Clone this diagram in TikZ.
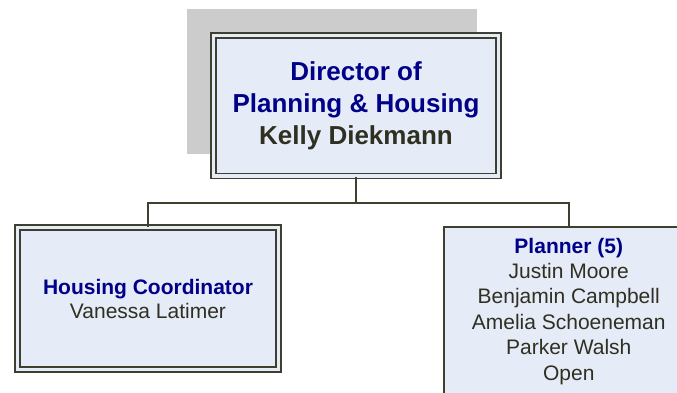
\documentclass[tikz,border=0pt]{standalone}
\usepackage{fontspec}
\setmainfont{Liberation Sans}
\definecolor{edge}{HTML}{3F3F2F}
\definecolor{boxfill}{HTML}{E6ECF7}
\definecolor{shadowgray}{HTML}{CCCCCC}
\definecolor{titleblue}{HTML}{000088}
\definecolor{nametext}{HTML}{2F2F22}
\tikzset{
  dblbox/.style={draw=edge, line width=1.7pt, double=boxfill, double distance=3.3pt, fill=boxfill, inner sep=0pt, align=center},
  sglbox/.style={draw=edge, line width=1.5pt, fill=boxfill, inner sep=0pt, align=center},
  conn/.style={draw=edge, line width=1.5pt},
  ttl/.style={text=titleblue},
}
\begin{document}
\begin{tikzpicture}[x=1pt,y=-1pt]
\useasboundingbox (0,0) rectangle (677,393);
\clip (0,0) rectangle (677,393);
\fill[shadowgray] (187,9) rectangle (477,154);
\node[dblbox, minimum width=285pt, minimum height=140.5pt, font=\fontsize{26}{32}\selectfont\bfseries] (dir) at (356,105.8)
  {\textcolor{titleblue}{Director of}\\\textcolor{titleblue}{Planning \& Housing}\\\textcolor{nametext}{Kelly Diekmann}};
\node[dblbox, minimum width=261pt, minimum height=142pt, font=\fontsize{21}{24}\selectfont] (hc) at (148,298.5)
  {\textcolor{titleblue}{\bfseries Housing Coordinator}\\\textcolor{nametext}{Vanessa Latimer}};
\node[sglbox, minimum width=250pt, minimum height=169pt, anchor=north west, font=\fontsize{21}{25.4}\selectfont] (pl) at (443,226)
  {\textcolor{titleblue}{\bfseries Planner (5)}\\\textcolor{nametext}{Justin Moore}\\\textcolor{nametext}{Benjamin Campbell}\\\textcolor{nametext}{Amelia Schoeneman}\\\textcolor{nametext}{Parker Walsh}\\\textcolor{nametext}{Open}};
\coordinate (j) at (356,203);
\draw[conn] (dir.south) -- (j);
\draw[conn] (hc.north) |- (j) -| (pl.north);
\end{tikzpicture}
\end{document}
